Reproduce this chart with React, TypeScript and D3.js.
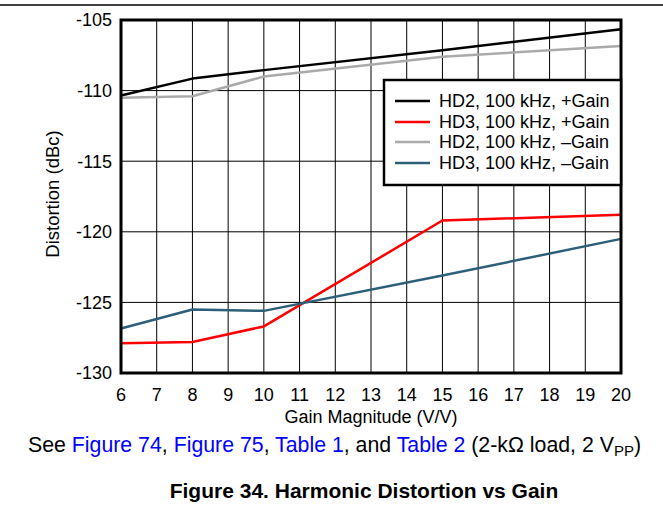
import React from "react";
import * as d3 from "d3";

const gains = [6, 8, 10, 15, 20];
const hd2Pos = [-110.35, -109.15, -108.55, -107.15, -105.65];
const hd3Pos = [-127.9, -127.8, -126.7, -119.2, -118.8];
const hd2Neg = [-110.5, -110.4, -109.0, -107.6, -106.85];
const hd3Neg = [-126.85, -125.5, -125.6, -123.1, -120.5];

const seriesNames = [
  "HD2, 100 kHz, +Gain",
  "HD3, 100 kHz, +Gain",
  "HD2, 100 kHz, \u2013Gain",
  "HD3, 100 kHz, \u2013Gain",
];
const seriesColors = ["#000000", "#ff0000", "#aaaaaa", "#2e5f78"];
const seriesValues = [hd2Pos, hd3Pos, hd2Neg, hd3Neg];

const xTicks = d3.range(6, 21, 1);
const yTicks = [-105, -110, -115, -120, -125, -130];

const W = 663;
const H = 508;
const L = 121, R = 621, T = 20, B = 373;
const FONT = "Arial, 'Liberation Sans', Helvetica, sans-serif";

export default function App() {
  const x = d3.scaleLinear().domain([6, 20]).range([L, R]);
  const y = d3.scaleLinear().domain([-130, -105]).range([B, T]);
  const line = d3
    .line<[number, number]>()
    .x((d) => x(d[0]))
    .y((d) => y(d[1]));

  const legX = 384, legY = 80, legW = 237, legH = 105;
  const rowY = [101, 122, 142, 163];

  return (
    <svg
      width={W}
      height={H}
      style={{ position: "absolute", left: 0, top: 0, background: "#fff" }}
      fontFamily={FONT}
    >
      <rect x={0} y={0} width={W} height={H} fill="#fff" />
      <line x1={0} x2={W} y1={5} y2={5} stroke="#000" strokeWidth={1.5} />

      {/* grid */}
      {xTicks.slice(1, -1).map((t) => (
        <line key={"gx" + t} x1={x(t)} x2={x(t)} y1={T} y2={B} stroke="#000" strokeWidth={1} />
      ))}
      {yTicks.slice(1, -1).map((t) => (
        <line key={"gy" + t} x1={L} x2={R} y1={y(t)} y2={y(t)} stroke="#000" strokeWidth={1} />
      ))}

      {/* series */}
      {seriesValues.map((vals, i) => (
        <path
          key={"s" + i}
          d={line(gains.map((g, j) => [g, vals[j]] as [number, number])) || ""}
          fill="none"
          stroke={seriesColors[i]}
          strokeWidth={2.5}
          strokeLinejoin="round"
        />
      ))}

      {/* frame */}
      <rect x={L} y={T} width={R - L} height={B - T} fill="none" stroke="#000" strokeWidth={3} />

      {/* legend */}
      <rect x={legX} y={legY} width={legW} height={legH} fill="#fff" stroke="#000" strokeWidth={2.5} />
      {seriesNames.map((n, i) => (
        <g key={"l" + i}>
          <line x1={395} x2={430} y1={rowY[i]} y2={rowY[i]} stroke={seriesColors[i]} strokeWidth={2.5} />
          <text x={439} y={rowY[i]} dy="0.35em" fontSize={18} fill="#000">
            {n}
          </text>
        </g>
      ))}

      {/* x tick labels */}
      {xTicks.map((t) => (
        <text key={"xt" + t} x={x(t)} y={401} textAnchor="middle" fontSize={18} fill="#000">
          {t}
        </text>
      ))}
      {/* y tick labels */}
      {yTicks.map((t) => (
        <text key={"yt" + t} x={112} y={y(t)} dy="0.35em" textAnchor="end" fontSize={18} fill="#000">
          {t}
        </text>
      ))}

      <text x={(L + R) / 2} y={423} textAnchor="middle" fontSize={18} fill="#000">
        Gain Magnitude (V/V)
      </text>
      <text
        transform={`translate(59, 194) rotate(-90)`}
        textAnchor="middle"
        fontSize={18.5}
        fill="#000"
      >
        Distortion (dBc)
      </text>

      {/* caption */}
      <text x={28} y={452} textAnchor="start" fontSize={21.3} fill="#000">
        <tspan>See </tspan>
        <tspan fill="#0000ff">Figure 74</tspan>
        <tspan>, </tspan>
        <tspan fill="#0000ff">Figure 75</tspan>
        <tspan>, </tspan>
        <tspan fill="#0000ff">Table 1</tspan>
        <tspan>, and </tspan>
        <tspan fill="#0000ff">Table 2</tspan>
        <tspan> (2-k{"\u03a9"} load, 2 V</tspan>
        <tspan fontSize={15} dy={4}>PP</tspan>
        <tspan dy={-4}>)</tspan>
      </text>
      <text x={364} y={498} textAnchor="middle" fontSize={21} fontWeight="bold" fill="#000">
        Figure 34. Harmonic Distortion vs Gain
      </text>
    </svg>
  );
}
